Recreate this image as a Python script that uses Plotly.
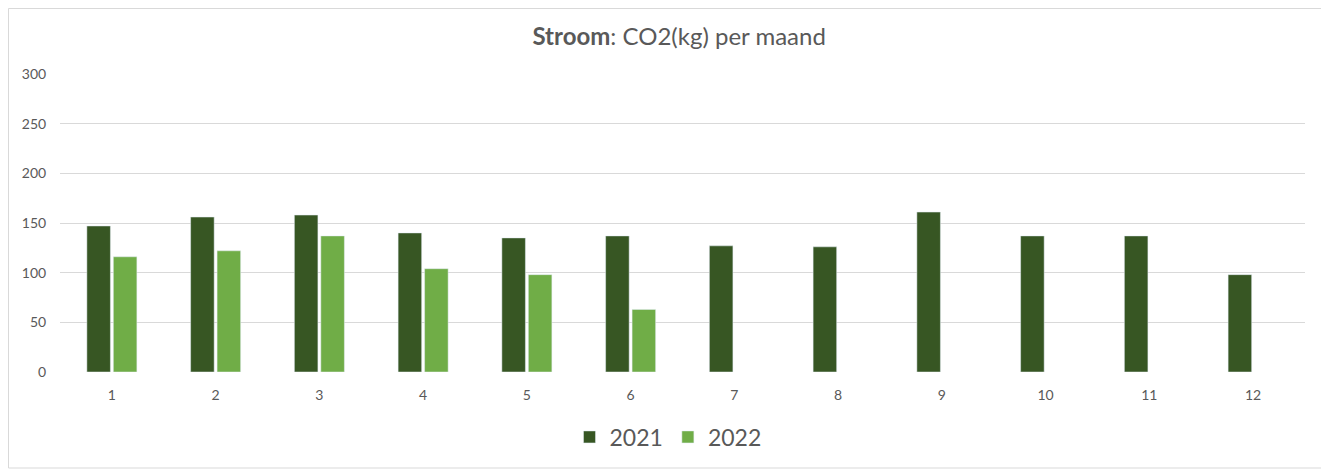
import plotly.graph_objects as go

months = [str(i) for i in range(1, 13)]
co2_2021 = [147, 156, 158, 140, 135, 137, 127, 126, 161, 137, 137, 98]
co2_2022 = [116, 122, 137, 104, 98, 63, None, None, None, None, None, None]
y_ticks = [0, 50, 100, 150, 200, 250, 300]

font_family = "Lato, 'Open Sans', sans-serif"
text_color = "#595959"

W, H = 1321, 462
ML, MR, MT, MB = 52, 24, 66, 98
PW, PH = W - ML - MR, H - MT - MB

fig = go.Figure()
fig.add_trace(go.Bar(x=months, y=co2_2021, name="2021", marker=dict(color="#375623")))
fig.add_trace(go.Bar(x=months, y=co2_2022, name="2022", marker=dict(color="#70AD47")))

fig.update_layout(
    width=W, height=H,
    margin=dict(l=ML, r=MR, t=MT, b=MB),
    paper_bgcolor="white", plot_bgcolor="white",
    barmode="group", bargap=0.49, bargroupgap=0.11,
    font=dict(family=font_family, color=text_color, size=14),
    title=dict(text="<b>Stroom</b>: CO2(kg) per maand", x=(665 - 8) / W, xanchor="center",
               y=1 - 29 / H, yanchor="middle", xref="paper",
               font=dict(size=24, color=text_color, family=font_family)),
    legend=dict(orientation="h", x=(668 - 8 - ML) / PW, xanchor="center",
                y=-(437 - 8 - MT - PH) / PH, yanchor="middle",
                font=dict(size=23, color=text_color), traceorder="normal"),
    showlegend=True,
)
fig.update_xaxes(type="category", showgrid=False, showline=False, zeroline=False,
                 ticks="outside", ticklen=10, tickcolor="rgba(0,0,0,0)",
                 tickfont=dict(size=14, color=text_color))
fig.update_yaxes(range=[0, 300], tickvals=y_ticks, showgrid=True, gridcolor="#d9d9d9",
                 gridwidth=1, zeroline=False, showline=False,
                 ticks="outside", ticklen=10, tickcolor="rgba(0,0,0,0)",
                 tickfont=dict(size=14, color=text_color))

fig.add_shape(type="rect", xref="paper", yref="paper",
              x0=-(ML - 0.5) / PW, x1=(1318 - ML) / PW,
              y0=-96 / PH, y1=1 + (MT - 0.5) / PH,
              line=dict(color="#d9d9d9", width=1), fillcolor="rgba(0,0,0,0)", layer="below")

fig.write_html("out.html")
